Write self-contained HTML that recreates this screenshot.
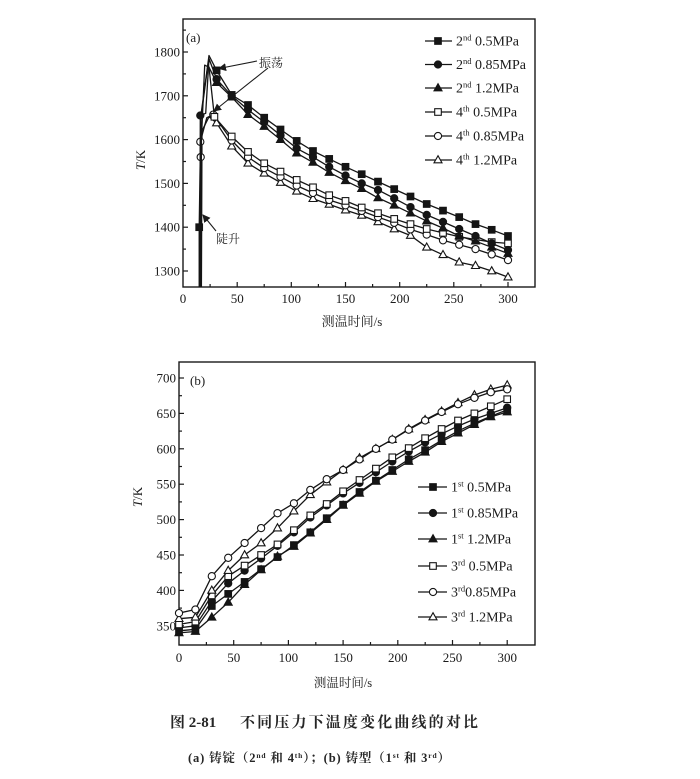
<!DOCTYPE html>
<html><head><meta charset="utf-8">
<style>
html,body{margin:0;padding:0;background:#fff;}
svg{display:block}
.tk{font-family:"Liberation Serif","Noto Serif CJK SC",serif;font-size:13px;fill:#1a1a1a}
.lg{font-family:"Liberation Serif","Noto Serif CJK SC",serif;font-size:14px;fill:#1a1a1a}
.cj{font-family:"Liberation Serif","Noto Serif CJK SC","Noto Sans CJK SC",serif;fill:#262626}
</style></head>
<body>
<svg id="s" width="700" height="779" viewBox="0 0 700 779" xmlns="http://www.w3.org/2000/svg">
<defs>
<clipPath id="ca"><rect x="183" y="19" width="352" height="268"/></clipPath>
<clipPath id="cb"><rect x="179" y="362" width="356" height="283"/></clipPath>
<marker id="ah" markerWidth="8" markerHeight="8" refX="7" refY="4" orient="auto" markerUnits="userSpaceOnUse">
<path d="M0,0 L8,4 L0,8 Z" fill="#1a1a1a"/></marker>
</defs>

<!-- ===== Panel (a) frame ===== -->
<rect x="183" y="19" width="352" height="268" fill="none" stroke="#1a1a1a" stroke-width="1.4"/>
<g stroke="#1a1a1a" stroke-width="1.2">
<line x1="183" y1="271" x2="188" y2="271"/><line x1="183" y1="227.2" x2="188" y2="227.2"/>
<line x1="183" y1="183.4" x2="188" y2="183.4"/><line x1="183" y1="139.6" x2="188" y2="139.6"/>
<line x1="183" y1="95.8" x2="188" y2="95.8"/><line x1="183" y1="52" x2="188" y2="52"/>
<line x1="183" y1="249.1" x2="186" y2="249.1"/><line x1="183" y1="205.3" x2="186" y2="205.3"/>
<line x1="183" y1="161.5" x2="186" y2="161.5"/><line x1="183" y1="117.7" x2="186" y2="117.7"/>
<line x1="183" y1="73.9" x2="186" y2="73.9"/><line x1="183" y1="30.1" x2="186" y2="30.1"/>
<line x1="237.2" y1="287" x2="237.2" y2="282"/><line x1="291.3" y1="287" x2="291.3" y2="282"/>
<line x1="345.5" y1="287" x2="345.5" y2="282"/><line x1="399.7" y1="287" x2="399.7" y2="282"/>
<line x1="453.8" y1="287" x2="453.8" y2="282"/><line x1="508" y1="287" x2="508" y2="282"/>
<line x1="210.1" y1="287" x2="210.1" y2="284"/><line x1="264.2" y1="287" x2="264.2" y2="284"/>
<line x1="318.4" y1="287" x2="318.4" y2="284"/><line x1="372.6" y1="287" x2="372.6" y2="284"/>
<line x1="426.7" y1="287" x2="426.7" y2="284"/><line x1="480.9" y1="287" x2="480.9" y2="284"/>
</g>
<g class="tk" text-anchor="end">
<text x="180" y="275.5">1300</text><text x="180" y="231.7">1400</text>
<text x="180" y="187.9">1500</text><text x="180" y="144.1">1600</text>
<text x="180" y="100.3">1700</text><text x="180" y="56.5">1800</text>
</g>
<g class="tk" text-anchor="middle">
<text x="183" y="303">0</text><text x="237.2" y="303">50</text><text x="291.3" y="303">100</text>
<text x="345.5" y="303">150</text><text x="399.7" y="303">200</text><text x="453.8" y="303">250</text>
<text x="508" y="303">300</text>
</g>
<text class="tk" transform="translate(145,160) rotate(-90)" text-anchor="middle"><tspan font-style="italic">T</tspan>/K</text>
<text class="cj" x="352" y="326" font-size="13" text-anchor="middle">测温时间/s</text>
<text class="tk" x="186" y="42" font-size="12">(a)</text>

<!-- annotations (a) -->
<g stroke="#1a1a1a" stroke-width="1.1" fill="none">
<line x1="257" y1="61" x2="219" y2="68.5" marker-end="url(#ah)"/>
<line x1="268" y1="68" x2="214" y2="111" marker-end="url(#ah)"/>
<line x1="216" y1="231" x2="203" y2="215" marker-end="url(#ah)"/>
</g>
<text class="cj" x="259" y="67" font-size="12">振荡</text>
<text class="cj" x="216" y="243" font-size="12">陡升</text>

<!-- legend (a) -->
<g stroke="#151515" stroke-width="1.3">
<line x1="425" y1="41" x2="452" y2="41"/><line x1="425" y1="64.5" x2="452" y2="64.5"/>
<line x1="425" y1="88" x2="452" y2="88"/><line x1="425" y1="112" x2="452" y2="112"/>
<line x1="425" y1="136" x2="452" y2="136"/><line x1="425" y1="160" x2="452" y2="160"/>
</g>
<g stroke="#151515" stroke-width="1.1">
<rect x="434.7" y="37.7" width="6.6" height="6.6" fill="#151515"/>
<circle cx="438" cy="64.5" r="3.6" fill="#151515"/>
<polygon points="438,83.7 442,90.8 434,90.8" fill="#151515"/>
<rect x="434.7" y="108.7" width="6.6" height="6.6" fill="#fff"/>
<circle cx="438" cy="136" r="3.6" fill="#fff"/>
<polygon points="438,155.7 442,162.8 434,162.8" fill="#fff"/>
</g>
<g class="lg">
<text x="456" y="45.5">2<tspan font-size="8.5" dy="-5">nd</tspan><tspan dy="5"> 0.5MPa</tspan></text>
<text x="456" y="69">2<tspan font-size="8.5" dy="-5">nd</tspan><tspan dy="5"> 0.85MPa</tspan></text>
<text x="456" y="92.5">2<tspan font-size="8.5" dy="-5">nd</tspan><tspan dy="5"> 1.2MPa</tspan></text>
<text x="456" y="116.5">4<tspan font-size="8.5" dy="-5">th</tspan><tspan dy="5"> 0.5MPa</tspan></text>
<text x="456" y="140.5">4<tspan font-size="8.5" dy="-5">th</tspan><tspan dy="5"> 0.85MPa</tspan></text>
<text x="456" y="164.5">4<tspan font-size="8.5" dy="-5">th</tspan><tspan dy="5"> 1.2MPa</tspan></text>
</g>

<!-- ===== Panel (b) frame ===== -->
<rect x="179" y="362" width="356" height="283" fill="none" stroke="#1a1a1a" stroke-width="1.4"/>
<g stroke="#1a1a1a" stroke-width="1.2">
<line x1="179" y1="625.8" x2="184" y2="625.8"/><line x1="179" y1="590.4" x2="184" y2="590.4"/>
<line x1="179" y1="555" x2="184" y2="555"/><line x1="179" y1="519.6" x2="184" y2="519.6"/>
<line x1="179" y1="484.2" x2="184" y2="484.2"/><line x1="179" y1="448.8" x2="184" y2="448.8"/>
<line x1="179" y1="413.4" x2="184" y2="413.4"/><line x1="179" y1="378" x2="184" y2="378"/>
<line x1="179" y1="608.1" x2="182" y2="608.1"/><line x1="179" y1="572.7" x2="182" y2="572.7"/>
<line x1="179" y1="537.3" x2="182" y2="537.3"/><line x1="179" y1="501.9" x2="182" y2="501.9"/>
<line x1="179" y1="466.5" x2="182" y2="466.5"/><line x1="179" y1="431.1" x2="182" y2="431.1"/>
<line x1="179" y1="395.7" x2="182" y2="395.7"/>
<line x1="233.7" y1="645" x2="233.7" y2="640"/><line x1="288.4" y1="645" x2="288.4" y2="640"/>
<line x1="343.1" y1="645" x2="343.1" y2="640"/><line x1="397.8" y1="645" x2="397.8" y2="640"/>
<line x1="452.5" y1="645" x2="452.5" y2="640"/><line x1="507.2" y1="645" x2="507.2" y2="640"/>
<line x1="206.4" y1="645" x2="206.4" y2="642"/><line x1="261.1" y1="645" x2="261.1" y2="642"/>
<line x1="315.8" y1="645" x2="315.8" y2="642"/><line x1="370.5" y1="645" x2="370.5" y2="642"/>
<line x1="425.2" y1="645" x2="425.2" y2="642"/><line x1="479.9" y1="645" x2="479.9" y2="642"/>
</g>
<g class="tk" text-anchor="end">
<text x="176" y="630.3">350</text><text x="176" y="594.9">400</text>
<text x="176" y="559.5">450</text><text x="176" y="524.1">500</text>
<text x="176" y="488.7">550</text><text x="176" y="453.3">600</text>
<text x="176" y="417.9">650</text><text x="176" y="382.5">700</text>
</g>
<g class="tk" text-anchor="middle">
<text x="179" y="662">0</text><text x="233.7" y="662">50</text><text x="288.4" y="662">100</text>
<text x="343.1" y="662">150</text><text x="397.8" y="662">200</text><text x="452.5" y="662">250</text>
<text x="507.2" y="662">300</text>
</g>
<text class="tk" transform="translate(142,497) rotate(-90)" text-anchor="middle"><tspan font-style="italic">T</tspan>/K</text>
<text class="cj" x="343" y="687" font-size="12.5" text-anchor="middle">测温时间/s</text>
<text class="tk" x="190" y="385" font-size="12">(b)</text>

<!-- legend (b) -->
<g stroke="#151515" stroke-width="1.3">
<line x1="418" y1="487" x2="447" y2="487"/><line x1="418" y1="513" x2="447" y2="513"/>
<line x1="418" y1="539" x2="447" y2="539"/><line x1="418" y1="566" x2="447" y2="566"/>
<line x1="418" y1="592" x2="447" y2="592"/><line x1="418" y1="617" x2="447" y2="617"/>
</g>
<g stroke="#151515" stroke-width="1.1">
<rect x="429.7" y="483.7" width="6.6" height="6.6" fill="#151515"/>
<circle cx="433" cy="513" r="3.6" fill="#151515"/>
<polygon points="433,534.7 437,541.8 429,541.8" fill="#151515"/>
<rect x="429.7" y="562.7" width="6.6" height="6.6" fill="#fff"/>
<circle cx="433" cy="592" r="3.6" fill="#fff"/>
<polygon points="433,612.7 437,619.8 429,619.8" fill="#fff"/>
</g>
<g class="lg">
<text x="451" y="491.5">1<tspan font-size="8.5" dy="-5">st</tspan><tspan dy="5">  0.5MPa</tspan></text>
<text x="451" y="517.5">1<tspan font-size="8.5" dy="-5">st</tspan><tspan dy="5"> 0.85MPa</tspan></text>
<text x="451" y="543.5">1<tspan font-size="8.5" dy="-5">st</tspan><tspan dy="5">  1.2MPa</tspan></text>
<text x="451" y="570.5">3<tspan font-size="8.5" dy="-5">rd</tspan><tspan dy="5"> 0.5MPa</tspan></text>
<text x="451" y="596.5">3<tspan font-size="8.5" dy="-5">rd</tspan><tspan dy="5">0.85MPa</tspan></text>
<text x="451" y="621.5">3<tspan font-size="8.5" dy="-5">rd</tspan><tspan dy="5"> 1.2MPa</tspan></text>
</g>

<!-- captions -->
<text class="cj" x="170" y="727" font-size="15" font-weight="bold">图 2-81</text>
<text class="cj" x="240" y="727" font-size="15" font-weight="bold" textLength="238" lengthAdjust="spacing">不同压力下温度变化曲线的对比</text>
<text class="cj" x="188" y="762" font-size="12.5" font-weight="bold" textLength="262" lengthAdjust="spacing">(a) 铸锭（2<tspan font-size="7.5" dy="-4">nd</tspan><tspan dy="4"> 和 4</tspan><tspan font-size="7.5" dy="-4">th</tspan><tspan dy="4">）；(b) 铸型（1</tspan><tspan font-size="7.5" dy="-4">st</tspan><tspan dy="4"> 和 3</tspan><tspan font-size="7.5" dy="-4">rd</tspan><tspan dy="4">）</tspan></text>

<g id="plots"></g>
</svg>
<script>
(function(){
const NS='http://www.w3.org/2000/svg';
const g=document.getElementById('plots');
function el(n,a){const e=document.createElementNS(NS,n);for(const k in a)e.setAttribute(k,a[k]);g.appendChild(e);return e;}
function marker(type,fill,x,y){
  const f=fill?'#151515':'#fff';
  if(type==='s') el('rect',{x:(x-3.3).toFixed(1),y:(y-3.3).toFixed(1),width:6.6,height:6.6,fill:f,stroke:'#151515','stroke-width':1.1});
  else if(type==='c') el('circle',{cx:x.toFixed(1),cy:y.toFixed(1),r:3.6,fill:f,stroke:'#151515','stroke-width':1.1});
  else el('polygon',{points:x.toFixed(1)+','+(y-4.3).toFixed(1)+' '+(x+4).toFixed(1)+','+(y+2.8).toFixed(1)+' '+(x-4).toFixed(1)+','+(y+2.8).toFixed(1),fill:f,stroke:'#151515','stroke-width':1.1});
}
function series(X,Y,pts,type,fill,clip){
  const d=pts.map((p,i)=>(i?'L':'M')+X(p[0]).toFixed(1)+' '+Y(p[1]).toFixed(1)).join(' ');
  el('path',{d:d,fill:'none',stroke:'#151515','stroke-width':1.3,'stroke-linejoin':'round','clip-path':clip});
  pts.forEach(p=>{if(p[2]!==0) marker(type,fill,X(p[0]),Y(p[1]));});
}
const X1=t=>183+t*1.0833, Y1=v=>52+(1800-v)*0.438;
const X2=t=>179+t*1.094, Y2=v=>378+(700-v)*0.708;
const TA=[];for(let t=45;t<=300;t+=15)TA.push(t);
const tail=v=>TA.map((t,i)=>[t,v[i]]);
const s4a=[1607,1572,1546,1527,1508,1491,1473,1460,1445,1432,1419,1407,1396,1387,1378,1372,1366,1363];
const s4b=[1598,1560,1535,1515,1495,1478,1462,1450,1437,1423,1410,1395,1383,1370,1360,1350,1338,1325];
const s4c=[1585,1546,1523,1502,1482,1465,1452,1439,1427,1412,1396,1381,1354,1337,1320,1312,1300,1286];
const s2a=[1702,1679,1650,1623,1597,1574,1556,1538,1521,1504,1487,1470,1453,1438,1423,1407,1394,1380];
const s2b=[1700,1668,1640,1610,1580,1560,1538,1518,1500,1485,1466,1446,1428,1412,1396,1380,1363,1348];
const s2c=[1697,1657,1630,1600,1569,1548,1525,1506,1488,1467,1450,1432,1414,1398,1380,1368,1354,1340];
series(X1,Y1,[[17,1262,0],[17.5,1620,0],[24,1652,0],[31,1638]].concat(tail(s4c)),'t',false,'url(#ca)');
series(X1,Y1,[[16.3,1262,0],[16.3,1560],[16,1595],[22,1650,0],[28,1657]].concat(tail(s4b)),'c',false,'url(#ca)');
series(X1,Y1,[[16.6,1262,0],[17,1600,0],[20,1770,0],[24,1765,0],[29,1652]].concat(tail(s4a)),'s',false,'url(#ca)');
series(X1,Y1,[[16,1262,0],[16.5,1650,0],[23,1770,0],[31,1730]].concat(tail(s2c)),'t',true,'url(#ca)');
series(X1,Y1,[[15.5,1262,0],[16,1655],[21,1660,0],[24,1785,0],[31,1738]].concat(tail(s2b)),'c',true,'url(#ca)');
series(X1,Y1,[[15,1262,0],[15,1400],[16.5,1655,0],[24,1792,0],[31,1758]].concat(tail(s2a)),'s',true,'url(#ca)');
const TB=[];for(let t=0;t<=300;t+=15)TB.push(t);
const tb=v=>TB.map((t,i)=>[t,v[i]]);
const A=[368,373,420,446,467,488,509,523,542,557,570,585,600,613,627,640,652,663,672,680,684];
const B=[360,362,400,428,450,467,488,512,535,553,570,587,600,613,628,641,653,665,676,684,690];
const C=[352,356,393,420,435,450,465,485,506,522,540,556,572,588,601,615,628,640,650,660,670];
const D=[347,350,385,410,428,445,463,482,503,520,537,552,567,582,596,609,621,632,642,650,658];
const E=[343,345,378,395,412,430,447,464,482,502,521,539,555,570,585,598,612,625,636,646,655];
const F=[340,342,362,383,408,429,448,462,481,500,520,537,554,568,582,595,610,622,634,645,652];
series(X2,Y2,tb(F),'t',true,'url(#cb)');
series(X2,Y2,tb(E),'s',true,'url(#cb)');
series(X2,Y2,tb(D),'c',true,'url(#cb)');
series(X2,Y2,tb(C),'s',false,'url(#cb)');
series(X2,Y2,tb(B),'t',false,'url(#cb)');
series(X2,Y2,tb(A),'c',false,'url(#cb)');
})();
</script>
</body></html>
